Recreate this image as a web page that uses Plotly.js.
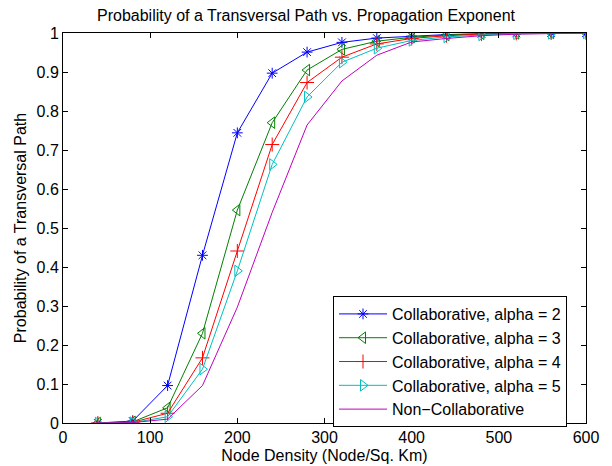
<!DOCTYPE html>
<html>
<head>
<meta charset="utf-8">
<script src="https://cdn.plot.ly/plotly-3.0.1.min.js"></script>
<style>html,body{margin:0;padding:0;background:#fff;}#chart{width:612px;height:466px;}</style>
</head>
<body>
<div id="chart"></div>
<script>
const density = [40, 80, 120, 160, 200, 240, 280, 320, 360, 400, 440, 480, 520, 560, 600];
const alpha2 = [0, 0.005, 0.096, 0.43, 0.744, 0.897, 0.951, 0.976, 0.987, 0.992, 0.996, 0.998, 0.999, 1, 1];
const alpha3 = [0, 0.003, 0.039, 0.23, 0.546, 0.77, 0.905, 0.958, 0.979, 0.989, 0.995, 0.998, 0.999, 1, 1];
const alpha4 = [0, 0.002, 0.025, 0.167, 0.441, 0.714, 0.873, 0.938, 0.972, 0.986, 0.993, 0.997, 0.999, 1, 1];
const alpha5 = [0, 0.001, 0.016, 0.138, 0.39, 0.663, 0.836, 0.925, 0.961, 0.981, 0.99, 0.995, 0.998, 0.999, 1];
const nonCollab = [0, 0.001, 0.01, 0.096, 0.297, 0.54, 0.764, 0.877, 0.943, 0.977, 0.986, 0.993, 0.997, 0.999, 1];
const seriesNames = ["Collaborative, alpha = 2", "Collaborative, alpha = 3", "Collaborative, alpha = 4", "Collaborative, alpha = 5", "Non\u2212Collaborative"];
const xTicks = [0, 100, 200, 300, 400, 500, 600];
const yTicks = [0, 0.1, 0.2, 0.3, 0.4, 0.5, 0.6, 0.7, 0.8, 0.9, 1];
const yTickText = ["0", "0.1", "0.2", "0.3", "0.4", "0.5", "0.6", "0.7", "0.8", "0.9", "1"];

const styles = [
  {color: "#0000ff", symbol: "asterisk-open", size: 9},
  {color: "#008000", symbol: "triangle-left-open", size: 10},
  {color: "#ff0000", symbol: "cross-thin-open", size: 10},
  {color: "#00bfbf", symbol: "triangle-right-open", size: 10},
  {color: "#bf00bf", symbol: null, size: 0}
];
const ys = [alpha2, alpha3, alpha4, alpha5, nonCollab];
const traces = ys.map((y, i) => {
  const s = styles[i];
  const t = {
    x: density, y: y, name: seriesNames[i], type: "scatter",
    mode: s.symbol ? "lines+markers" : "lines",
    line: {color: s.color, width: 1}
  };
  if (s.symbol) t.marker = {symbol: s.symbol, size: s.size, color: s.color, line: {color: s.color, width: 1}};
  return t;
});

const font = {family: "Liberation Sans, Arial, sans-serif", size: 16, color: "#000"};
const layout = {
  width: 612, height: 466,
  margin: {l: 63, r: 26, t: 33, b: 43, pad: 0},
  paper_bgcolor: "#fff", plot_bgcolor: "#fff",
  font: font,
  showlegend: true,
  title: {text: "Probability of a Transversal Path vs. Propagation Exponent", font: font, x: 0.5, xanchor: "center", y: 0.966, yanchor: "middle"},
  xaxis: {
    range: [0, 600], tickvals: xTicks, ticks: "inside", ticklen: 5, tickcolor: "#000",
    showline: true, linecolor: "#000", linewidth: 1, mirror: "ticks", showgrid: false, zeroline: false,
    title: {text: "Node Density (Node/Sq. Km)", font: font, standoff: 4}, automargin: false
  },
  yaxis: {
    range: [0, 1], tickvals: yTicks, ticktext: yTickText, ticks: "inside", ticklen: 5, tickcolor: "#000",
    showline: true, linecolor: "#000", linewidth: 1, mirror: "ticks", showgrid: false, zeroline: false,
    title: {text: "Probability of a Transversal Path", font: font, standoff: 5}, automargin: false
  },
  legend: {
    x: 0.9637, y: 0.3256, xanchor: "right", yanchor: "top",
    bgcolor: "#fff", bordercolor: "#000", borderwidth: 1,
    font: font, itemwidth: 48, tracegroupgap: 0
  }
};
Plotly.newPlot("chart", traces, layout, {displayModeBar: false, staticPlot: true});
</script>
</body>
</html>
